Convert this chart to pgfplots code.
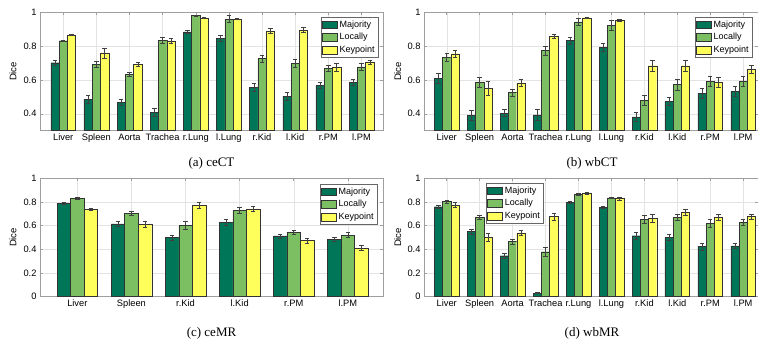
\documentclass[border=0pt]{standalone}
\usepackage{pgfplots}
\usepackage{pgfplotstable}
\pgfplotsset{compat=1.18}
\usepackage{fontspec}
\setmainfont{Liberation Sans}
\newfontfamily\capfont{Liberation Serif}

\definecolor{cMaj}{RGB}{0,118,88}
\definecolor{cLoc}{RGB}{124,190,98}
\definecolor{cKey}{RGB}{255,255,92}

\pgfplotstableread{
x maj majE loc locE key keyE
0 0.702 0.015 0.832 0.005 0.866 0.004
1 0.487 0.022 0.693 0.020 0.760 0.030
2 0.468 0.015 0.633 0.010 0.691 0.012
3 0.410 0.022 0.835 0.018 0.831 0.015
4 0.885 0.010 0.980 0.003 0.965 0.003
5 0.848 0.018 0.960 0.020 0.960 0.003
6 0.558 0.022 0.727 0.020 0.890 0.015
7 0.505 0.025 0.698 0.025 0.895 0.015
8 0.568 0.020 0.667 0.018 0.675 0.022
9 0.587 0.018 0.678 0.018 0.705 0.012
}\tblA

\pgfplotstableread{
x maj majE loc locE key keyE
0 0.611 0.030 0.734 0.025 0.755 0.020
1 0.390 0.030 0.588 0.030 0.552 0.040
2 0.404 0.020 0.526 0.020 0.582 0.020
3 0.394 0.035 0.773 0.025 0.858 0.010
4 0.834 0.020 0.943 0.020 0.968 0.003
5 0.793 0.025 0.923 0.030 0.955 0.005
6 0.382 0.025 0.479 0.030 0.684 0.030
7 0.473 0.025 0.572 0.030 0.684 0.035
8 0.520 0.030 0.591 0.030 0.584 0.030
9 0.532 0.030 0.591 0.030 0.664 0.025
}\tblB

\pgfplotstableread{
x maj majE loc locE key keyE
0 0.789 0.012 0.831 0.010 0.738 0.010
1 0.614 0.020 0.704 0.020 0.611 0.022
2 0.500 0.022 0.603 0.030 0.769 0.025
3 0.628 0.022 0.730 0.022 0.741 0.020
4 0.513 0.018 0.544 0.015 0.473 0.022
5 0.485 0.017 0.521 0.020 0.411 0.020
}\tblC

\pgfplotstableread{
x maj majE loc locE key keyE
0 0.760 0.012 0.803 0.010 0.775 0.020
1 0.549 0.020 0.670 0.015 0.500 0.035
2 0.346 0.020 0.465 0.018 0.540 0.018
3 0.030 0.005 0.380 0.040 0.676 0.030
4 0.797 0.010 0.865 0.007 0.873 0.006
5 0.752 0.008 0.834 0.005 0.828 0.010
6 0.515 0.030 0.654 0.030 0.660 0.035
7 0.500 0.025 0.668 0.025 0.713 0.028
8 0.425 0.030 0.620 0.030 0.670 0.025
9 0.430 0.025 0.630 0.025 0.676 0.022
}\tblD

\pgfplotsset{
  errs/.style={
    forget plot, draw=none, mark=none,
    /pgfplots/error bars/y dir=both,
    /pgfplots/error bars/y explicit,
    /pgfplots/error bars/error bar style={draw=black!75, line width=0.5pt},
    /pgfplots/error bars/error mark options={rotate=90, draw=black!75, mark size=2.2pt, line width=0.5pt},
  },
  majbar/.style={ybar, bar shift=-0.25, fill=cMaj, draw=black!80, line width=0.4pt},
  locbar/.style={ybar, bar shift=0, fill=cLoc, draw=black!80, line width=0.4pt},
  keybar/.style={ybar, bar shift=0.25, fill=cKey, draw=black!80, line width=0.4pt},
  panel/.style={
    scale only axis,
    anchor=south west,
    bar width=0.25,
    axis line style={gray!75, line width=0.5pt},
    tick style={gray!75, line width=0.5pt},
    major tick length=3pt,
    tick align=inside,
    grid=major,
    grid style={gray!22, line width=0.4pt},
    font=\fontsize{9}{10.5}\selectfont,
    ticklabel style={font=\fontsize{9.3}{10.5}\selectfont},
    /pgf/number format/assume math mode=true,
    yticklabel style={/pgf/number format/fixed},
    ylabel={Dice},
    every axis y label/.style={at={(axis description cs:-0.079,0.5)}, rotate=90, anchor=center, font=\fontsize{9.5}{11}\selectfont},
    legend cell align=left,
    legend image code/.code={\draw[#1,/tikz/.cd,line width=0.4pt] (0pt,-3.8pt) rectangle (15pt,3.8pt);},
    legend style={font=\fontsize{9}{10}\selectfont, draw=black!60, line width=0.4pt, inner sep=1.2pt, row sep=0.6pt, fill=white},
  },
}

\newcommand{\bars}[1]{%
\addplot[majbar] table[x=x, y=maj] {#1};
\addplot[locbar] table[x=x, y=loc] {#1};
\addplot[keybar] table[x=x, y=key] {#1};
\addplot[errs] table[x expr=\thisrow{x}-0.25, y=maj, y error=majE] {#1};
\addplot[errs] table[x=x, y=loc, y error=locE] {#1};
\addplot[errs] table[x expr=\thisrow{x}+0.25, y=key, y error=keyE] {#1};
\legend{Majority,Locally,Keypoint}
}

\begin{document}
\begin{tikzpicture}
\path[use as bounding box] (0pt,0pt) rectangle (758pt,344pt);

% (a) ceCT
\begin{axis}[panel, at={(40pt,213.3pt)}, width=343pt, height=118.4pt,
  xmin=-0.70, xmax=9.65, ymin=0.3, ymax=1,
  xtick={0,...,9}, ytick={0.4,0.6,0.8,1},
  xticklabels={Liver,Spleen,Aorta,Trachea,r.Lung,l.Lung,r.Kid,l.Kid,r.PM,l.PM},
  legend style={at={(1,1)}, anchor=north east, xshift=-5pt, yshift=-5pt}]
\bars{\tblA}
\end{axis}

% (b) wbCT
\begin{axis}[panel, at={(424pt,213.3pt)}, width=334pt, height=118.4pt,
  xmin=-0.69, xmax=9.45, ymin=0.3, ymax=1,
  xtick={0,...,9}, ytick={0.4,0.6,0.8,1},
  xticklabels={Liver,Spleen,Aorta,Trachea,r.Lung,l.Lung,r.Kid,l.Kid,r.PM,l.PM},
  legend style={at={(1,1)}, anchor=north east, xshift=-6pt, yshift=-5pt}]
\bars{\tblB}
\end{axis}

% (c) ceMR
\begin{axis}[panel, at={(40pt,47.3pt)}, width=343pt, height=118.4pt,
  xmin=-0.69, xmax=5.65, ymin=0, ymax=1,
  xtick={0,...,5}, ytick={0,0.2,0.4,0.6,0.8,1},
  xticklabels={Liver,Spleen,r.Kid,l.Kid,r.PM,l.PM},
  legend style={at={(1,1)}, anchor=north east, xshift=-6pt, yshift=-6pt}]
\bars{\tblC}
\end{axis}

% (d) wbMR
\begin{axis}[panel, at={(424pt,47.3pt)}, width=334pt, height=118.4pt,
  xmin=-0.69, xmax=9.45, ymin=0, ymax=1,
  xtick={0,...,9}, ytick={0,0.2,0.4,0.6,0.8,1},
  xticklabels={Liver,Spleen,Aorta,Trachea,r.Lung,l.Lung,r.Kid,l.Kid,r.PM,l.PM},
  legend style={at={(0,1)}, anchor=north west, xshift=62pt, yshift=-5pt}]
\bars{\tblD}
\end{axis}

\node[font=\capfont\fontsize{13}{15}\selectfont] at (211.5pt,181pt) {(a) ceCT};
\node[font=\capfont\fontsize{13}{15}\selectfont] at (592pt,181pt) {(b) wbCT};
\node[font=\capfont\fontsize{13}{15}\selectfont] at (211.5pt,11pt) {(c) ceMR};
\node[font=\capfont\fontsize{13}{15}\selectfont] at (592pt,11pt) {(d) wbMR};
\end{tikzpicture}
\end{document}
